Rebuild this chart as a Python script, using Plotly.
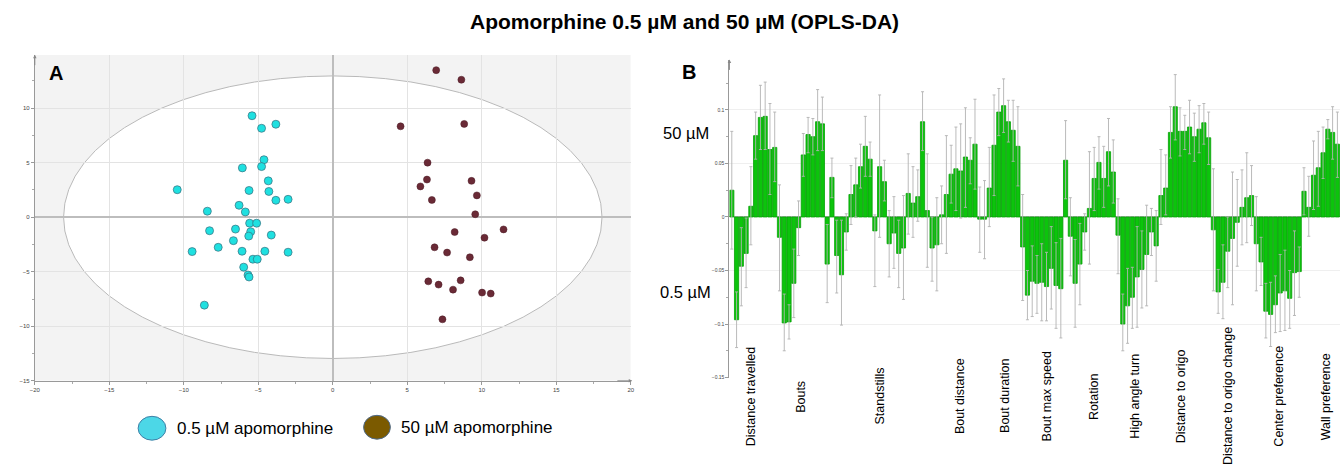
import plotly.graph_objects as go

W, H = 1344, 468

# ---------------- Panel A data (OPLS-DA scores) ----------------
low_x = [-5.42, -4.78, -3.82, -4.62, -6.07, -4.78, -4.33, -10.44, -5.62, -4.29, -3.82, -3.0,
         -6.29, -8.42, -5.87, -5.58, -5.11, -8.27, -6.53, -5.51, -5.64, -4.13, -7.69, -6.67,
         -9.44, -6.09, -4.56, -3.0, -5.36, -5.07, -5.98, -5.69, -5.62, -8.62]
low_y = [9.30, 8.15, 8.52, 5.27, 4.52, 4.64, 3.33, 2.52, 2.45, 2.36, 1.55, 1.64,
         1.09, 0.55, 0.48, -0.55, -0.55, -1.24, -1.09, -1.33, -1.73, -1.64, -2.76, -2.15,
         -3.15, -3.12, -3.12, -3.21, -3.85, -3.85, -4.58, -5.30, -5.48, -8.06]
high_x = [6.94, 8.63, 4.55, 8.82, 6.36, 6.32, 9.31, 5.88, 9.67, 6.65, 9.56, 8.18,
          11.46, 10.18, 6.83, 7.67, 9.2, 6.41, 7.1, 8.58, 8.07, 10.02, 10.6, 7.36]
high_y = [13.48, 12.6, 8.33, 8.55, 5.0, 3.45, 3.33, 2.82, 2.0, 1.58, 0.27, -1.36,
          -1.12, -1.88, -2.76, -3.24, -3.67, -5.88, -6.18, -5.79, -6.64, -6.91, -7.0, -9.36]
ellipse_ax = [18.07, 12.95]

# ---------------- Panel B data (loadings with CI) ----------------
vals = [0.025, -0.096, -0.046, -0.034, 0.010, 0.076, 0.093, 0.094, 0.063, 0.065,
        -0.019, -0.099, -0.098, -0.062, -0.010, 0.058, 0.077, 0.075, 0.089, 0.087,
        -0.044, 0.037, -0.036, -0.054, -0.014, 0.021, 0.030, 0.047, 0.066, 0.054,
        -0.013, 0.047, 0.033, -0.025, -0.015, -0.034, -0.029, 0.022, 0.013, 0.019,
        0.089, 0.006, -0.029, -0.026, 0.002, 0.021, 0.040, 0.045, 0.043, 0.056,
        0.053, 0.068, -0.002, -0.002, 0.027, 0.067, 0.098, 0.104, 0.089, 0.081,
        0.066, -0.028, -0.073, -0.060, -0.062, -0.061, -0.065, -0.048, -0.064, -0.067,
        0.053, -0.018, -0.062, -0.044, -0.014, 0.008, 0.036, 0.051, 0.036, 0.061,
        0.042, -0.017, -0.100, -0.083, -0.075, -0.056, -0.049, -0.035, -0.014, -0.027,
        0.020, 0.027, 0.079, 0.103, 0.080, 0.080, 0.084, 0.075, 0.082, 0.088,
        0.074, -0.012, -0.070, -0.061, -0.032, -0.020, -0.005, 0.009, 0.018, 0.020,
        -0.025, -0.042, -0.088, -0.091, -0.082, -0.071, -0.069, -0.076, -0.052, -0.051,
        0.024, 0.009, 0.039, 0.046, 0.060, 0.082, 0.079, 0.068]
hi = [0.080, -0.070, -0.010, -0.001, 0.047, 0.098, 0.123, 0.126, 0.106, 0.098,
      0.030, -0.072, -0.082, -0.030, 0.015, 0.078, 0.093, 0.092, 0.119, 0.112,
      -0.007, 0.055, -0.003, -0.003, 0.003, 0.048, 0.055, 0.068, 0.094, 0.070,
      0.002, 0.114, 0.053, 0.006, 0.019, -0.003, 0.020, 0.059, 0.047, 0.044,
      0.117, 0.059, 0.000, 0.018, 0.029, 0.076, 0.067, 0.084, 0.087, 0.102,
      0.074, 0.110, 0.028, 0.034, 0.065, 0.114, 0.120, 0.129, 0.109, 0.109,
      0.103, 0.021, -0.050, -0.027, -0.036, -0.025, -0.033, -0.009, -0.024, -0.020,
      0.090, 0.018, -0.021, -0.006, 0.003, 0.061, 0.065, 0.075, 0.066, 0.092,
      0.072, 0.017, -0.072, -0.048, -0.047, -0.009, -0.013, 0.011, 0.008, 0.006,
      0.063, 0.058, 0.103, 0.133, 0.102, 0.095, 0.109, 0.097, 0.104, 0.106,
      0.098, 0.045, -0.049, -0.026, 0.000, 0.042, 0.035, 0.044, 0.060, 0.048,
      0.019, -0.019, -0.062, -0.061, -0.055, -0.035, -0.031, -0.050, -0.013, -0.028,
      0.046, 0.038, 0.071, 0.080, 0.084, 0.091, 0.103, 0.098]
lo = [-0.030, -0.122, -0.083, -0.066, -0.026, 0.054, 0.063, 0.063, 0.021, 0.033,
      -0.069, -0.125, -0.114, -0.094, -0.036, 0.038, 0.060, 0.058, 0.062, 0.062,
      -0.080, 0.018, -0.071, -0.101, -0.031, -0.007, 0.000, 0.027, 0.038, 0.038,
      -0.065, -0.019, 0.015, -0.056, -0.048, -0.066, -0.077, -0.016, -0.019, -0.004,
      0.062, -0.047, -0.060, -0.069, -0.025, -0.034, 0.013, 0.006, -0.001, 0.009,
      0.031, 0.026, -0.033, -0.039, -0.009, 0.020, 0.076, 0.079, 0.070, 0.052,
      0.029, -0.078, -0.096, -0.093, -0.090, -0.097, -0.097, -0.086, -0.104, -0.113,
      0.017, -0.055, -0.103, -0.082, -0.031, -0.044, 0.006, 0.026, 0.009, 0.029,
      0.013, -0.053, -0.125, -0.118, -0.104, -0.103, -0.085, -0.083, -0.036, -0.060,
      -0.007, 0.002, 0.055, 0.072, 0.057, 0.063, 0.059, 0.052, 0.060, 0.068,
      0.049, -0.069, -0.090, -0.095, -0.066, -0.082, -0.046, -0.026, -0.024, -0.008,
      -0.069, -0.064, -0.113, -0.121, -0.108, -0.107, -0.106, -0.104, -0.092, -0.075,
      0.002, -0.018, 0.007, 0.010, 0.036, 0.073, 0.054, 0.037]
var_idx = list(range(len(vals)))

group_names = ["Distance travelled", "Bouts", "Standstills", "Bout distance", "Bout duration",
               "Bout max speed", "Rotation", "High angle turn", "Distance to origo",
               "Distance to origo change", "Center preference", "Wall preference"]
group_centers = [4.2, 14.6, 31.1, 48.0, 57.4, 66.1, 76.1, 84.6, 94.4, 104.2, 114.8, 124.8]

legend_labels = ["0.5 µM apomorphine", "50 µM apomorphine"]


def px(x):
    return x / W


def py(y):
    return 1 - y / H


fig = go.Figure()

fig.add_trace(go.Scatter(x=low_x, y=low_y, mode="markers", xaxis="x", yaxis="y",
                         marker=dict(size=8, color="#1fe0e0", line=dict(color="#3a6f7e", width=0.7)),
                         showlegend=False))
fig.add_trace(go.Scatter(x=high_x, y=high_y, mode="markers", xaxis="x", yaxis="y",
                         marker=dict(size=7, color="#6a2a36", line=dict(color="#4a1a24", width=0.5)),
                         showlegend=False))

err_plus = [h - v for h, v in zip(hi, vals)]
err_minus = [v - l for v, l in zip(vals, lo)]
fig.add_trace(go.Bar(x=var_idx, y=vals, xaxis="x2", yaxis="y2",
                     marker=dict(color="#0cc40c", line=dict(color="#08a008", width=0.8)),
                     error_y=dict(type="data", array=err_plus, arrayminus=err_minus,
                                  color="#b2b2b2", thickness=0.9, width=1.5),
                     showlegend=False))

shapes = [
    dict(type="rect", xref="x", yref="y", x0=-20, x1=20, y0=-15, y1=14.9,
         fillcolor="#f3f3f3", line=dict(width=0), layer="below"),
    dict(type="circle", xref="x", yref="y", x0=-ellipse_ax[0], x1=ellipse_ax[0],
         y0=-ellipse_ax[1], y1=ellipse_ax[1], fillcolor="white",
         line=dict(color="#b9b9b9", width=1), layer="below"),
    dict(type="circle", xref="paper", yref="paper", x0=px(134), x1=px(162), y0=py(443), y1=py(419),
         fillcolor="#4cd7e7", line=dict(color="#3f7fa6", width=1)),
    dict(type="circle", xref="paper", yref="paper", x0=px(361), x1=px(388), y0=py(442), y1=py(418),
         fillcolor="#7b5a00", line=dict(color="#4d6a8c", width=1)),
]

ann = [
    dict(text="<b>Apomorphine 0.5 µM and 50 µM (OPLS-DA)</b>", x=px(684), y=py(22),
         xref="paper", yref="paper", showarrow=False, font=dict(size=21, color="black"),
         xanchor="center", yanchor="middle"),
    dict(text="<b>A</b>", x=px(42), y=py(73), xref="paper", yref="paper", showarrow=False,
         font=dict(size=20, color="black"), xanchor="left", yanchor="middle"),
    dict(text="<b>B</b>", x=px(680), y=py(72), xref="paper", yref="paper", showarrow=False,
         font=dict(size=20, color="black"), xanchor="left", yanchor="middle"),
    dict(text="50 µM", x=px(686), y=py(134), xref="paper", yref="paper", showarrow=False,
         font=dict(size=16.5, color="black"), xanchor="center", yanchor="middle"),
    dict(text="0.5 µM", x=px(685), y=py(294), xref="paper", yref="paper", showarrow=False,
         font=dict(size=16.5, color="black"), xanchor="center", yanchor="middle"),
    dict(text=legend_labels[0], x=px(171), y=py(431), xref="paper", yref="paper", showarrow=False,
         font=dict(size=17, color="black"), xanchor="left", yanchor="middle"),
    dict(text=legend_labels[1], x=px(397), y=py(430), xref="paper", yref="paper", showarrow=False,
         font=dict(size=17, color="black"), xanchor="left", yanchor="middle"),
    # axis arrows
    dict(x=-20, y=14.9, ax=-20, ay=13.8, xref="x", yref="y", axref="x", ayref="y", text="",
         showarrow=True, arrowhead=2, arrowsize=0.7, arrowwidth=1, arrowcolor="#888888"),
    dict(x=20.1, y=-15, ax=19.0, ay=-15, xref="x", yref="y", axref="x", ayref="y", text="",
         showarrow=True, arrowhead=2, arrowsize=0.7, arrowwidth=1, arrowcolor="#888888"),
    dict(x=-0.5, y=0.147, ax=-0.5, ay=0.136, xref="x2", yref="y2", axref="x2", ayref="y2", text="",
         showarrow=True, arrowhead=2, arrowsize=0.7, arrowwidth=1, arrowcolor="#888888"),
]
for name, c in zip(group_names, group_centers):
    ann.append(dict(text=name, x=c, y=py(399), xref="x2", yref="paper", showarrow=False,
                    textangle=-90, font=dict(size=12.5, color="black"),
                    xanchor="center", yanchor="middle"))

fig.update_layout(
    width=W, height=H,
    margin=dict(l=0, r=0, t=0, b=0),
    paper_bgcolor="white", plot_bgcolor="white",
    font=dict(family="Liberation Sans, Arial, sans-serif"),
    shapes=shapes, annotations=ann,
    bargap=0.12,
    xaxis=dict(domain=[px(30), px(630)], range=[-20, 20], anchor="y",
               tick0=-20, dtick=5, showgrid=True, gridcolor="#e3e3e3", gridwidth=1,
               zeroline=True, zerolinecolor="#bdbdbd", zerolinewidth=1.5,
               showline=True, linecolor="#999999", linewidth=1,
               ticks="outside", ticklen=3, tickcolor="#999999",
               minor=dict(ticks="outside", ticklen=2, dtick=2.5, tickcolor="#aaaaaa", showgrid=False),
               tickfont=dict(size=6, color="#444444")),
    yaxis=dict(domain=[py(383.3), py(55)], range=[-15, 14.9], anchor="x",
               tick0=-15, dtick=5, showgrid=True, gridcolor="#e3e3e3", gridwidth=1,
               zeroline=True, zerolinecolor="#bdbdbd", zerolinewidth=1.5,
               showline=True, linecolor="#999999", linewidth=1,
               ticks="outside", ticklen=3, tickcolor="#999999",
               minor=dict(ticks="outside", ticklen=2, dtick=2.5, tickcolor="#aaaaaa", showgrid=False),
               tickfont=dict(size=6, color="#444444")),
    xaxis2=dict(domain=[px(729.3), 1.0], range=[-0.5, 127.55], anchor="y2",
                showgrid=False, zeroline=False, showline=False, showticklabels=False, ticks=""),
    yaxis2=dict(domain=[py(380), py(60)], range=[-0.15, 0.147], anchor="x2",
                tick0=0, dtick=0.05, showgrid=True, gridcolor="#efefef", gridwidth=1,
                zeroline=True, zerolinecolor="#b5b5b5", zerolinewidth=1,
                showline=True, linecolor="#999999", linewidth=1,
                ticks="outside", ticklen=3, tickcolor="#999999",
                minor=dict(ticks="outside", ticklen=2, dtick=0.025, tickcolor="#aaaaaa"),
                tickfont=dict(size=5, color="#444444")),
)

fig.write_html("out.html")
